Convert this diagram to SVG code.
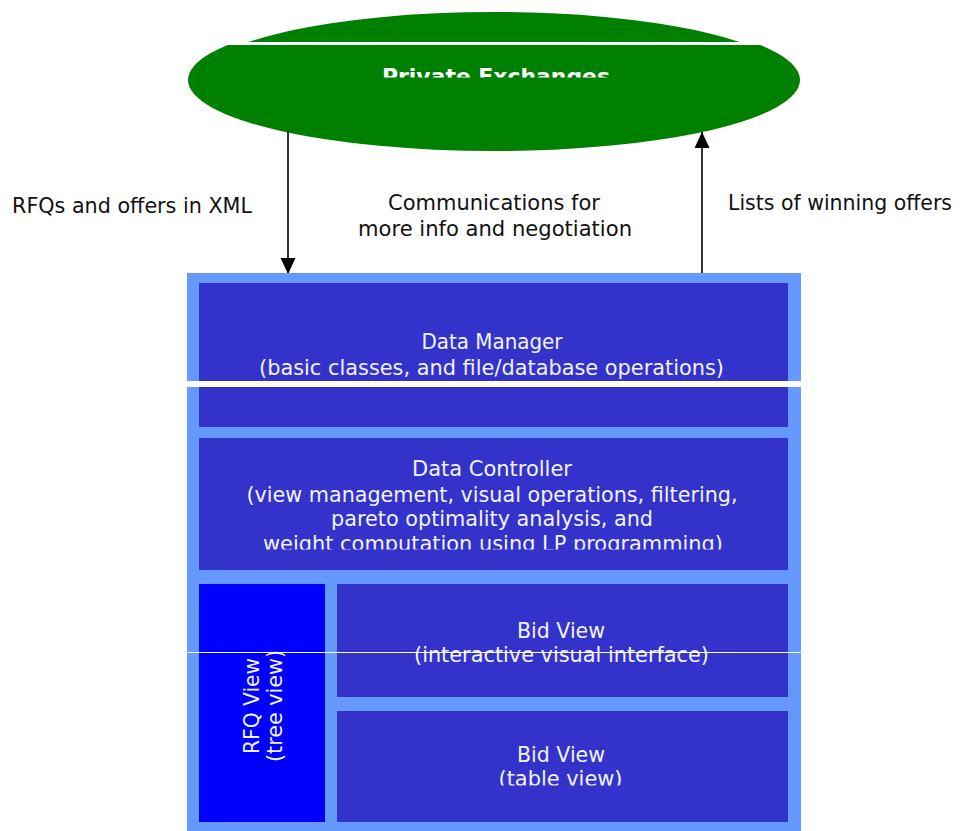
<svg xmlns="http://www.w3.org/2000/svg" width="962" height="831" viewBox="0 0 962 831">
<style>
.lbl{font-family:"DejaVu Sans","Liberation Sans",sans-serif;font-size:21.5px;fill:#111111}
.bt{font-family:"DejaVu Sans","Liberation Sans",sans-serif;font-size:20.5px;fill:#f2f2ff;text-anchor:middle}
.box{fill:#3333cc}
.conn{stroke:#333333;stroke-width:2;fill:none}
</style>
<defs>
<clipPath id="cTop"><rect x="0" y="0" width="962" height="42"/></clipPath>
<clipPath id="cBot"><rect x="0" y="45" width="962" height="200"/></clipPath>
<clipPath id="cPE"><rect x="0" y="0" width="962" height="77.5"/></clipPath>
<clipPath id="cDC"><rect x="0" y="0" width="962" height="549.5"/></clipPath>
<clipPath id="cTV"><rect x="0" y="0" width="962" height="785.5"/></clipPath>
<marker id="ah" markerUnits="userSpaceOnUse" markerWidth="16" markerHeight="16" refX="16" refY="7.5" orient="auto">
<path d="M0,0 L16,7.5 L0,15 z" fill="#000000"/>
</marker>
</defs>
<rect width="962" height="831" fill="#ffffff"/>

<g id="private-exchanges">
<ellipse cx="494" cy="80" rx="296" ry="68" fill="#008000" clip-path="url(#cTop)"/>
<ellipse cx="494" cy="80" rx="306" ry="71" fill="#008000" clip-path="url(#cBot)"/>
<text x="496" y="84" font-family="DejaVu Sans, Liberation Sans, sans-serif" font-weight="bold" font-size="20.5" fill="#ffffff" text-anchor="middle" textLength="228" lengthAdjust="spacingAndGlyphs" clip-path="url(#cPE)">Private Exchanges</text>
</g>

<g id="connectors">
<line class="conn" x1="288" y1="131" x2="288" y2="274" marker-end="url(#ah)"/>
<line class="conn" x1="702" y1="273" x2="702" y2="132" marker-end="url(#ah)"/>
</g>

<g id="labels">
<text class="lbl" x="12" y="213" textLength="240" lengthAdjust="spacingAndGlyphs">RFQs and offers in XML</text>
<text class="lbl" x="494" y="210" text-anchor="middle" textLength="212" lengthAdjust="spacingAndGlyphs">Communications for</text>
<text class="lbl" x="495" y="236" text-anchor="middle" textLength="274" lengthAdjust="spacingAndGlyphs">more info and negotiation</text>
<text class="lbl" x="728" y="210" textLength="224" lengthAdjust="spacingAndGlyphs">Lists of winning offers</text>
</g>

<g id="system">
<rect x="187" y="273" width="614" height="560" fill="#6699ff"/>
</g>

<g id="data-manager">
<rect class="box" x="199" y="283" width="589" height="144"/>
<text class="bt" x="492" y="349" textLength="141" lengthAdjust="spacingAndGlyphs">Data Manager</text>
<text class="bt" x="491.5" y="375" textLength="465" lengthAdjust="spacingAndGlyphs">(basic classes, and file/database operations)</text>
</g>

<g id="data-controller">
<rect class="box" x="199" y="438" width="589" height="132"/>
<text class="bt" x="492" y="476" textLength="160" lengthAdjust="spacingAndGlyphs">Data Controller</text>
<text class="bt" x="492" y="501.5" textLength="491" lengthAdjust="spacingAndGlyphs">(view management, visual operations, filtering,</text>
<text class="bt" x="492" y="526" textLength="322" lengthAdjust="spacingAndGlyphs">pareto optimality analysis, and</text>
<text class="bt" x="493" y="551" textLength="460" lengthAdjust="spacingAndGlyphs" clip-path="url(#cDC)">weight computation using LP programming)</text>
</g>

<g id="rfq-view">
<rect x="199" y="584" width="126" height="238" fill="#0000ff"/>
<text class="bt" transform="translate(259,706) rotate(-90)" x="0" y="0" textLength="96" lengthAdjust="spacingAndGlyphs">RFQ View</text>
<text class="bt" transform="translate(282,706) rotate(-90)" x="0" y="0" textLength="112" lengthAdjust="spacingAndGlyphs">(tree view)</text>
</g>

<g id="bid-view-interactive">
<rect class="box" x="337" y="584" width="451" height="113"/>
<text class="bt" x="561" y="637.5" textLength="88" lengthAdjust="spacingAndGlyphs">Bid View</text>
<text class="bt" x="561.5" y="661.5" textLength="295" lengthAdjust="spacingAndGlyphs">(interactive visual interface)</text>
</g>

<g id="bid-view-table">
<rect class="box" x="337" y="711" width="451" height="111"/>
<text class="bt" x="561" y="761.5" textLength="88" lengthAdjust="spacingAndGlyphs">Bid View</text>
<text class="bt" x="560.5" y="786" textLength="124" lengthAdjust="spacingAndGlyphs" clip-path="url(#cTV)">(table view)</text>
</g>

<g id="scan-lines">
<rect x="187" y="381" width="614" height="6" fill="#ffffff"/>
<rect x="187" y="652" width="615" height="1" fill="#ffffff"/>
</g>
</svg>
